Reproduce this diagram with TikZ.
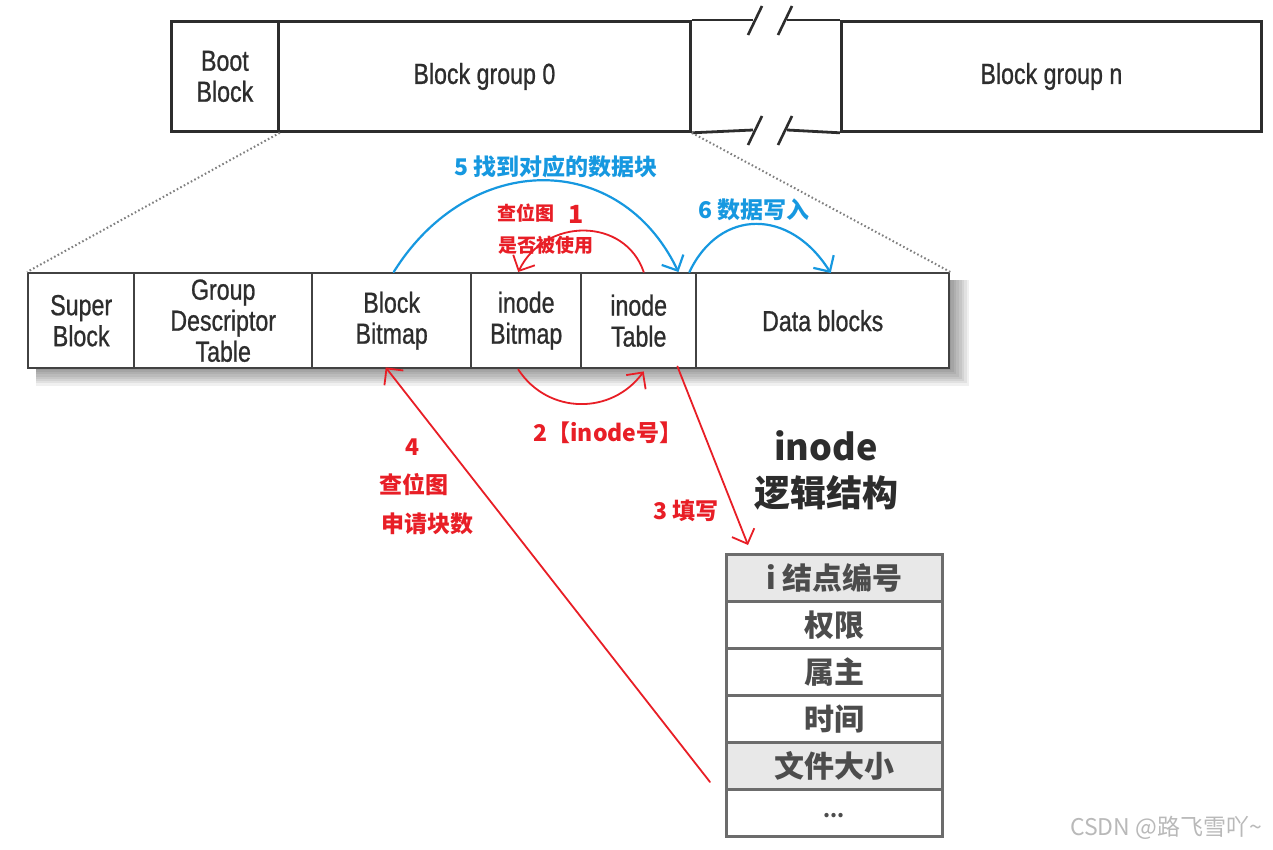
\documentclass[tikz,border=0pt]{standalone}
\usepackage{fontspec}
\setmainfont{Liberation Sans}
\newfontfamily\cond[FakeStretch=0.8,FakeBold=0.8]{Liberation Sans}
\newfontfamily\cjk{Noto Sans CJK SC}
\usetikzlibrary{arrows.meta}
\definecolor{myred}{RGB}{232,30,38}
\definecolor{myblue}{RGB}{22,152,224}
\definecolor{ink}{RGB}{45,45,45}
\definecolor{cellgray}{RGB}{232,232,232}
\begin{document}
\begin{tikzpicture}[x=1pt,y=-1pt,
  topbox/.style={draw=ink, line width=2.8pt, rectangle, anchor=north west, inner sep=0pt,
    minimum height=110pt, align=center, text=ink, font=\cond\fontsize{29}{31}\selectfont},
  rowbox/.style={draw=ink!90, line width=2.4pt, rectangle, anchor=north west, inner sep=0pt,
    minimum height=95pt, align=center, text=ink, fill=white, font=\cond\fontsize{29}{31}\selectfont},
  topline/.style={draw=ink, line width=2.8pt},
  slash/.style={draw=ink, line width=2.6pt},
  zoomline/.style={draw=gray, line width=2pt, dash pattern=on 1.6pt off 2.4pt},
  cell/.style={draw=gray!85!black, line width=2.6pt, rectangle, anchor=north west, inner sep=0pt,
    minimum width=216pt, minimum height=47pt, text=ink!85, font=\cjk\bfseries\fontsize{30}{30}\selectfont},
  redarr/.style={draw=myred, line width=1.8pt, line cap=round, -{Straight Barb[length=12pt,width=24pt,line width=1.8pt]}},
  bluearr/.style={draw=myblue, line width=2.2pt, line cap=round, -{Straight Barb[length=12pt,width=24pt,line width=2.2pt]}},
  lab/.style={inner sep=0pt, font=\cjk\bfseries\fontsize{23}{23}\selectfont},
  labs/.style={inner sep=0pt, font=\cjk\bfseries\fontsize{19}{19}\selectfont},
]
\useasboundingbox (0,0) rectangle (1273,849);
\fill[white] (0,0) rectangle (1273,849);

% ---------- top bar ----------
\node[topbox, minimum width=107pt] (boot) at (170,20) {Boot\\Block};
\node[topbox, minimum width=412pt] (bg0) at (277,20) {Block group 0};
\node[topbox, minimum width=420pt] (bgn) at (840,20) {Block group n};
\coordinate (gt1) at (753,20);
\coordinate (gt2) at (787,20);
\coordinate (gb1) at (753,130);
\coordinate (gb2) at (787,130);
\draw[topline] (bg0.north east) -- (gt1);
\draw[topline] (gt2) -- (bgn.north west);
\draw[topline] (bg0.south east) -- (gb1);
\draw[topline] (gb2) -- (bgn.south west);
\draw[slash] (748,35) -- (762,6);
\draw[slash] (778,35) -- (792,6);
\draw[slash] (748,145) -- (762,116);
\draw[slash] (778,145) -- (792,116);

% ---------- shadow of block group row ----------
\foreach \k in {1,...,9}
  \fill[black, opacity=0.06] (36,280) rectangle (946+2.6*\k, 365+2.3*\k);

% ---------- block group row ----------
\node[rowbox, minimum width=106pt] (sb) at (27,272) {Super\\Block};
\node[rowbox, minimum width=178pt] (gd) at (133,272) {Group\\Descriptor\\Table};
\node[rowbox, minimum width=159pt] (bb) at (311,272) {Block\\Bitmap};
\node[rowbox, minimum width=110pt] (ib) at (470,272) {inode\\Bitmap};
\node[rowbox, minimum width=115pt] (it) at (580,272) {inode\\Table};
\node[rowbox, minimum width=253pt] (db) at (695,272) {Data blocks};

\draw[zoomline] (boot.south east) -- (sb.north west);
\draw[zoomline] (bg0.south east) -- (db.north east);

% ---------- inode logical structure ----------
\node[inner sep=0pt, text=ink, font=\cjk\bfseries\fontsize{36}{36}\selectfont] (t1) at (826,446) {inode};
\node[inner sep=0pt, text=ink, font=\cjk\bfseries\fontsize{36}{36}\selectfont] (t2) at (826,493) {逻辑结构};
\node[cell, fill=cellgray] (r1) at (725,553) {i 结点编号};
\node[cell, fill=white] (r2) at (725,600) {权限};
\node[cell, fill=white] (r3) at (725,647) {属主};
\node[cell, fill=white] (r4) at (725,694) {时间};
\node[cell, fill=cellgray] (r5) at (725,741) {文件大小};
\node[cell, fill=white, font=\cjk\bfseries\fontsize{20}{20}\selectfont] (r6) at (725,788) {\raisebox{-10pt}{...}};

% ---------- arrows ----------
% 1: inode Table -> inode Bitmap
\draw[redarr] ([xshift=5pt]it.north) .. controls (625,217) and (545,217) .. ([xshift=-8pt]ib.north);
% 2: inode Bitmap -> inode Table
\draw[redarr] ([xshift=-8pt]ib.south) .. controls (548,415) and (612,415) .. ([xshift=5pt,yshift=-2pt]it.south);
% 3: inode Table -> inode structure
\coordinate (c3) at (748,545);
\draw[redarr] ([xshift=-20pt,yshift=3pt]it.south east) -- (c3);
% 4: from structure to Block Bitmap
\coordinate (c4) at (710,782);
\draw[redarr] (c4) -- ([xshift=-6pt,yshift=2pt]bb.south);
% 5: Block Bitmap -> inode Table
\draw[bluearr] ([xshift=2pt]bb.north) .. controls (470,150) and (620,150) .. ([xshift=-19pt]it.north east);
% 6: inode Table -> Data blocks
\draw[bluearr] ([xshift=-8pt]it.north east) .. controls (720,208) and (790,208) .. ([xshift=8pt,yshift=-1pt]db.north);

% ---------- labels ----------
\node[lab, text=myblue] (l5) at (556,167) {5 找到对应的数据块};
\node[lab, text=myblue] (l6) at (754,210) {6 数据写入};
\node[labs, text=myred] (l1a) at (526,213) {查位图};
\node[lab, text=myred, font=\cjk\bfseries\fontsize{25}{25}\selectfont] (l1n) at (576,214) {1};
\node[labs, text=myred] (l1b) at (546,245) {是否被使用};
\node[lab, text=myred] (l2) at (608,433) {2【inode号】};
\node[lab, text=myred] (l4) at (412,447) {4};
\node[lab, text=myred] (l4a) at (414,485) {查位图};
\node[lab, text=myred] (l4b) at (427,524) {申请块数};
\node[lab, text=myred] (l3) at (686,511) {3 填写};

\node[inner sep=0pt, text=gray!55, font=\cjk\fontsize{23}{23}\selectfont] (wm) at (1166,828) {CSDN @路飞雪吖\textasciitilde};
\end{tikzpicture}
\end{document}
